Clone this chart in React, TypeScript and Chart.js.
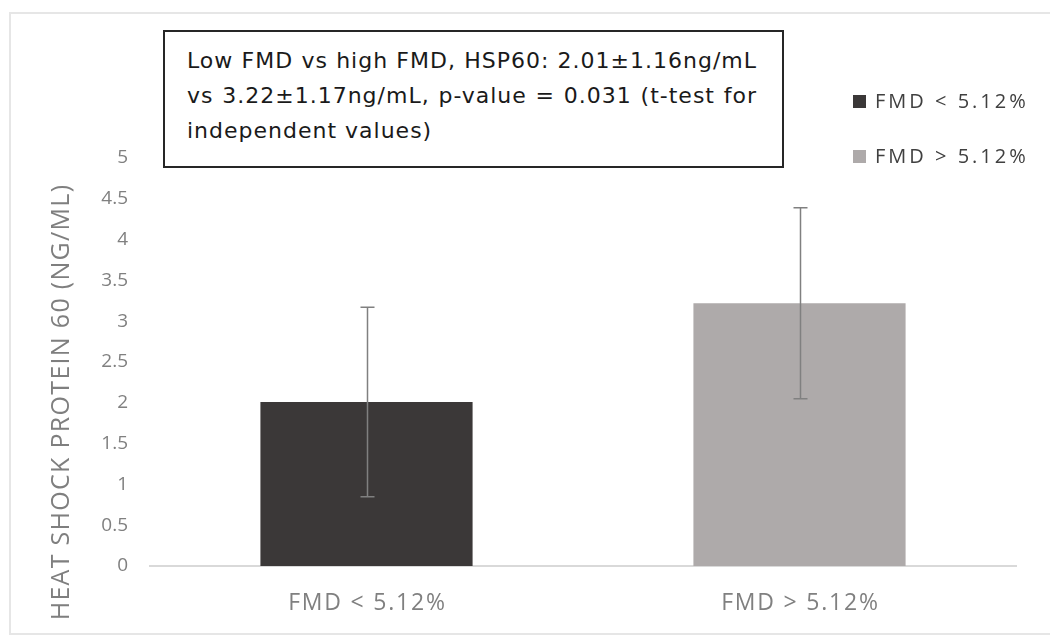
import React, { useEffect, useRef } from "react";
import { Chart, registerables } from "chart.js";

Chart.register(...registerables);

const categories = ["FMD < 5.12%", "FMD > 5.12%"];
const seriesNames = ["FMD < 5.12%", "FMD > 5.12%"];
const meanValues = [2.01, 3.22];
const sdValues = [1.16, 1.17];
const barColors = ["#3b3838", "#aeaaaa"];
const yTickMin = 0;
const yTickMax = 5;
const yTickStep = 0.5;
const yTitle = "HEAT SHOCK PROTEIN 60 (NG/ML)";
const noteLines = [
  "Low FMD vs high FMD, HSP60: 2.01±1.16ng/mL",
  "vs 3.22±1.17ng/mL, p-value = 0.031 (t-test for",
  "independent values)",
];

const errorBarPlugin = {
  id: "errorBars",
  afterDatasetsDraw(chart: any) {
    const ctx = chart.ctx;
    const y = chart.scales.y;
    ctx.save();
    ctx.strokeStyle = "#808080";
    ctx.lineWidth = 1.5;
    chart.data.datasets.forEach((ds: any, i: number) => {
      const meta = chart.getDatasetMeta(i);
      ds.data.forEach((v: any, j: number) => {
        if (v === null || v === undefined) return;
        const el = meta.data[j];
        if (!el) return;
        const err = ds.errors[j];
        const x = Math.round(el.x) + 0.5;
        const yTop = y.getPixelForValue(v + err);
        const yBot = y.getPixelForValue(v - err);
        ctx.beginPath();
        ctx.moveTo(x, yTop);
        ctx.lineTo(x, yBot);
        ctx.moveTo(x - 7, yTop);
        ctx.lineTo(x + 7, yTop);
        ctx.moveTo(x - 7, yBot);
        ctx.lineTo(x + 7, yBot);
        ctx.stroke();
      });
    });
    ctx.restore();
  },
};

const extrasPlugin = {
  id: "extras",
  afterDraw(chart: any) {
    const ctx = chart.ctx;
    // x category labels
    ctx.save();
    const xs = chart.scales.x;
    ctx.fillStyle = "#808080";
    ctx.font = "23px 'Open Sans', sans-serif";
    (ctx as any).letterSpacing = "1.8px";
    ctx.textAlign = "center";
    ctx.textBaseline = "middle";
    chart.data.labels.forEach((lab: string, i: number) => {
      ctx.fillText(lab, xs.getPixelForValue(i) + 1, xs.top + 37);
    });
    ctx.restore();

    // y axis title
    ctx.save();
    ctx.fillStyle = "#7f7f7f";
    ctx.font = "25px 'Open Sans', sans-serif";
    (ctx as any).letterSpacing = "1.3px";
    ctx.textAlign = "center";
    ctx.textBaseline = "middle";
    ctx.translate(62, 402);
    ctx.rotate(-Math.PI / 2);
    ctx.fillText(yTitle, 0, 0);
    ctx.restore();

    // legend
    ctx.save();
    ctx.font = "20px 'Open Sans', sans-serif";
    (ctx as any).letterSpacing = "3px";
    ctx.textBaseline = "middle";
    ctx.textAlign = "left";
    const legendY = [101, 156];
    chart.data.datasets.forEach((ds: any, i: number) => {
      ctx.fillStyle = ds.backgroundColor;
      ctx.fillRect(853, legendY[i] - 6, 13, 13);
      ctx.fillStyle = "#404040";
      ctx.fillText(ds.label, 875, legendY[i] + 1);
    });
    ctx.restore();
  },
};

export default function App() {
  const canvasRef = useRef<HTMLCanvasElement | null>(null);

  useEffect(() => {
    if (!canvasRef.current) return;
    const datasets = seriesNames.map((name, i) => ({
      label: name,
      data: categories.map((_, j) => (j === i ? meanValues[i] : null)),
      errors: categories.map((_, j) => (j === i ? sdValues[i] : 0)),
      backgroundColor: barColors[i],
      borderWidth: 0,
      barPercentage: 0.49,
      categoryPercentage: 1,
      skipNull: true,
    }));
    const chart = new Chart(canvasRef.current, {
      type: "bar",
      data: { labels: categories, datasets: datasets as any },
      options: {
        responsive: false,
        animation: false,
        layout: { padding: { left: 10, top: 158, right: 34, bottom: 11 } },
        plugins: {
          legend: { display: false },
          tooltip: { enabled: false },
        },
        scales: {
          x: {
            grid: { display: false, drawTicks: false },
            border: { display: true, color: "#d9d9d9", width: 2 },
            ticks: { display: false },
            afterFit(scale: any) {
              scale.height = 60;
            },
          },
          y: {
            min: yTickMin,
            max: yTickMax,
            grid: { display: false, drawTicks: false },
            border: { display: false },
            ticks: {
              stepSize: yTickStep,
              color: "#808080",
              font: { family: "'Open Sans', sans-serif", size: 19 },
              padding: 22,
              callback: (v: any) => String(v),
            },
            afterFit(scale: any) {
              scale.width = 140;
            },
          },
        },
      },
      plugins: [errorBarPlugin, extrasPlugin],
    });
    return () => chart.destroy();
  }, []);

  return (
    <div style={{ position: "absolute", left: 0, top: 0, width: 1050, height: 637, background: "#fff", overflow: "hidden" }}>
      <div
        style={{
          position: "absolute",
          left: 9,
          top: 12,
          width: 1100,
          height: 623,
          border: "2px solid #e6e6e6",
          boxSizing: "border-box",
        }}
      />
      <canvas ref={canvasRef} width={1050} height={637} style={{ position: "absolute", left: 0, top: 0 }} />
      <div
        style={{
          position: "absolute",
          left: 163,
          top: 30,
          width: 621,
          height: 138,
          border: "2px solid #262626",
          boxSizing: "border-box",
          background: "#fff",
          padding: "11px 25px 0 22px",
          fontFamily: "'DejaVu Sans', sans-serif",
          fontSize: 22,
          letterSpacing: "1px",
          lineHeight: "35px",
          color: "#1a1a1a",
        }}
      >
        {noteLines.map((line, i) => (
          <div
            key={i}
            style={{
              textAlign: i < noteLines.length - 1 ? "justify" : "left",
              textAlignLast: i < noteLines.length - 1 ? "justify" : "left",
              whiteSpace: "nowrap",
            }}
          >
            {line}
          </div>
        ))}
      </div>
    </div>
  );
}
